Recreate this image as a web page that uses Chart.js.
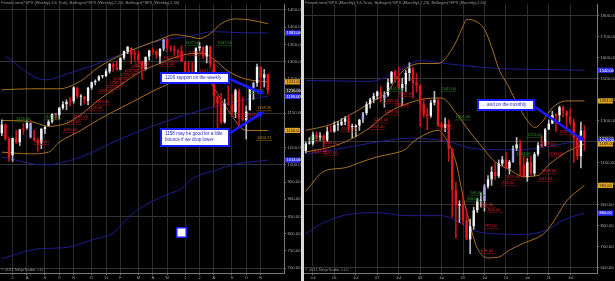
<!DOCTYPE html>
<html>
<head>
<meta charset="utf-8">
<script src="https://cdn.jsdelivr.net/npm/chart.js@4.4.0/dist/chart.umd.min.js"></script>
<style>
  body { margin: 0; background: #000; width: 615px; height: 281px; overflow: hidden; position: relative; }
  #wk { position: absolute; left: 0; top: 0; }
  #mo { position: absolute; left: 304px; top: 0; }
  #split { position: absolute; left: 301px; top: 0; width: 3px; height: 281px; background: #d9d9d9; }
</style>
</head>
<body>
<canvas id="wk" width="301" height="281"></canvas>
<div id="split"></div>
<canvas id="mo" width="311" height="281"></canvas>
<script>
// ---- weekly SPX, Jun 14 2010 .. Nov 14 2011 ----
const wOpen  = [1092,1117,1077,1028,1078,1066,1103,1107,1122,1080,1072,1063,1104,1114,1126,1148,1144,1165,1177,1184,1185,1223,1198,1198,1186,1224,1240,1246,1257,1258,1271,1293,1283,1276,1311,1329,1340,1322,1322,1301,1279,1315,1332,1329,1315,1337,1365,1340,1337,1333,1331,1300,1272,1271,1268,1339,1343,1315,1344,1292,1199,1179,1124,1177,1173,1153,1214,1137,1131,1159,1224,1238,1285,1253,1263];
const wHigh  = [1131,1119,1079,1078,1100,1103,1120,1128,1129,1100,1078,1105,1111,1131,1148,1150,1167,1184,1189,1196,1227,1226,1204,1199,1225,1241,1247,1259,1260,1278,1294,1296,1302,1311,1331,1344,1340,1332,1331,1301,1314,1333,1340,1334,1338,1364,1371,1346,1346,1334,1346,1300,1298,1298,1341,1356,1343,1347,1345,1307,1199,1208,1191,1230,1204,1220,1220,1195,1171,1224,1240,1293,1285,1277,1265];
const wLow   = [1085,1071,1011,1010,1063,1056,1088,1104,1077,1069,1040,1047,1091,1113,1122,1131,1132,1161,1160,1171,1179,1194,1173,1176,1174,1219,1232,1244,1252,1256,1266,1271,1275,1276,1306,1323,1294,1303,1295,1249,1275,1304,1321,1309,1295,1331,1329,1329,1318,1311,1300,1268,1262,1262,1265,1331,1309,1296,1282,1168,1101,1120,1121,1174,1140,1137,1114,1127,1075,1159,1190,1228,1216,1226,1206];
const wClose = [1117,1076,1022,1078,1065,1103,1102,1122,1079,1071,1065,1105,1110,1126,1148,1146,1166,1176,1183,1183,1225,1199,1199,1190,1224,1240,1244,1257,1258,1272,1294,1283,1276,1311,1330,1343,1320,1321,1304,1279,1313,1332,1328,1319,1337,1363,1340,1338,1333,1331,1300,1271,1271,1268,1339,1344,1316,1345,1292,1199,1179,1124,1177,1174,1154,1216,1136,1131,1155,1224,1238,1285,1253,1263,1216];
const wBlue  = [8, 15, 45, 70];
const wSlots = 79;
const wTicks = [[3,'J'],[7,'A'],[12,'S'],[16,'O'],[20,'N'],[25,'D'],[29,'11'],[33,'F'],[38,'M'],[42,'A'],[46,'M'],[51,'J'],[55,'J'],[59,'A'],[64,'S'],[68,'O'],[72,'N']];

// bands as [bar, price]
const wUpper20 = [[0,1218],[8,1221],[16,1221],[22,1244],[27,1284],[33,1318],[38,1341],[44,1364],[48,1378],[52,1373],[55,1367],[58,1381],[61,1410],[65,1424],[69,1421],[74,1410]];
const wMid20   = [[0,1129],[8,1126],[13,1112],[18,1121],[22,1146],[27,1189],[33,1232],[38,1267],[44,1295],[49,1315],[54,1324],[56,1324],[59,1307],[63,1272],[68,1249],[74,1241]];
const wLower20 = [[0,1037],[8,1032],[13,1037],[16,1066],[22,1100],[27,1132],[36,1181],[44,1224],[52,1258],[56,1267],[59,1224],[63,1158],[68,1100],[74,1100]];
const wUpper50 = [[1,1315],[12,1247],[19,1267],[27,1295],[36,1333],[44,1361],[52,1373],[59,1387],[66,1384],[74,1383]];
const wMid50   = [[0,1023],[12,1000],[22,1023],[31,1066],[41,1109],[49,1138],[58,1166],[66,1186],[74,1199]];
const wLower50 = [[0,728],[11,757],[17,759],[26,785],[31,802],[35,845],[38,871],[46,914],[50,931],[53,960],[60,986],[64,1000],[74,1014]];

const wRedTags   = [[27,1209],[29,1221],[30,1232],[31,1244],[33,1255],[34,1267],[36,1278],[37,1287],[26,1175],[24,1158],[20,1132],[18,1118],[17,1095],[9,1060],[45,1304],[44,1287],[55,1267],[67,1138],[52,1318]];
const wGreenTags = [[51,1347],[60,1347],[4,1126],[12,1132],[69,1209]];
const wOrangeTags = [[71,1158,'1158.35'],[71,1072,'1054.71']];

// ---- monthly SPX, May 2005 .. Nov 2011 ----
const mOpen  = [1156,1191,1191,1234,1220,1229,1207,1249,1248,1280,1281,1295,1311,1270,1270,1277,1304,1336,1378,1401,1418,1438,1407,1421,1482,1531,1503,1455,1474,1527,1549,1481,1468,1379,1331,1323,1386,1400,1280,1267,1283,1166,969,896,903,826,735,798,873,919,919,987,1021,1057,1036,1096,1115,1074,1104,1169,1188,1089,1031,1102,1049,1141,1183,1181,1258,1286,1327,1326,1364,1345,1321,1292,1219,1131,1253];
const mHigh  = [1199,1219,1246,1245,1243,1233,1270,1276,1295,1297,1310,1319,1326,1284,1280,1307,1340,1389,1407,1431,1441,1462,1438,1499,1535,1541,1556,1503,1539,1576,1553,1524,1472,1404,1359,1397,1440,1405,1293,1314,1304,1167,1007,919,943,877,832,888,930,956,996,1039,1081,1101,1113,1130,1150,1112,1180,1220,1206,1132,1120,1130,1149,1196,1227,1263,1303,1345,1333,1370,1371,1347,1357,1307,1230,1293,1277];
const mLow   = [1146,1188,1183,1201,1205,1168,1201,1246,1245,1253,1277,1280,1245,1219,1224,1253,1290,1327,1360,1385,1403,1390,1364,1416,1476,1484,1454,1371,1439,1490,1407,1435,1271,1317,1257,1315,1374,1272,1200,1248,1107,840,741,815,805,735,667,783,863,888,869,979,992,1020,1029,1086,1071,1045,1101,1157,1040,1029,1011,1040,1039,1132,1174,1181,1257,1286,1249,1295,1318,1258,1282,1101,1114,1075,1158];
const mClose = [1191,1191,1234,1220,1229,1207,1249,1248,1280,1281,1295,1311,1270,1270,1277,1304,1336,1378,1401,1418,1438,1407,1421,1482,1531,1503,1455,1474,1527,1549,1481,1468,1379,1331,1323,1386,1400,1280,1267,1283,1166,969,896,903,826,735,798,873,919,919,987,1021,1057,1036,1096,1115,1074,1104,1169,1187,1089,1031,1102,1049,1141,1183,1181,1258,1286,1327,1326,1364,1345,1321,1292,1219,1131,1253,1216];
const mBlue  = [16, 22, 50, 58, 66];
const mSlots = 82;
const mTicks = [[2,'Jul'],[8,'06'],[14,'Jul'],[20,'07'],[26,'Jul'],[32,'08'],[38,'Jul'],[44,'09'],[50,'Jul'],[56,'10'],[62,'Jul'],[68,'11'],[74,'Jul']];

const mUpper20 = [[0,1254],[7,1282],[12,1324],[18,1385],[23,1441],[26,1516],[29,1558],[32,1572],[37,1572],[39,1595],[42,1674],[44,1749],[45,1782],[47,1777],[50,1735],[52,1651],[54,1548],[57,1455],[59,1385],[62,1301],[64,1268],[66,1291],[69,1361],[73,1394],[78,1394]];
const mMid20   = [[0,1151],[7,1175],[12,1207],[18,1268],[23,1338],[29,1385],[33,1403],[38,1408],[42,1338],[46,1245],[50,1161],[53,1104],[57,1067],[61,1034],[65,1039],[68,1090],[73,1151],[78,1189]];
const mLower20 = [[0,964],[5,1058],[11,1076],[15,1100],[20,1128],[24,1142],[28,1165],[30,1198],[33,1231],[37,1254],[39,1221],[42,1104],[44,941],[46,801],[48,693],[51,647],[54,651],[57,684],[61,717],[67,768],[70,838],[73,918],[78,992]];
const mUpper50 = [[0,1492],[18,1487],[26,1539],[32,1586],[39,1572],[54,1548],[65,1544],[78,1540]];
const mMid50   = [[0,1142],[9,1165],[18,1193],[30,1217],[39,1203],[48,1165],[59,1161],[67,1175],[73,1193],[78,1203]];
const mLower50 = [[0,763],[5,815],[13,857],[20,862],[28,848],[38,848],[42,824],[47,777],[52,763],[61,759],[67,777],[73,834],[78,860]];

const mRedTags   = [[26,1417],[22,1385],[25,1366],[22,1329],[19,1291],[18,1259],[10,1249],[5,1184],[2,1147],[5,1137],[37,1263],[71,1235],[56,1020],[55,992],[49,890],[51,866],[50,787],[49,670],[66,1048],[65,1011],[68,1133],[66,1179]];
const mGreenTags = [[23,1441],[38,1441],[42,1305],[62,1221],[46,946],[45,918],[59,1133],[1,1207]];

Chart.defaults.font.family = "'Liberation Sans', Arial, sans-serif";

const ORANGE = '#a9701f';
const NAVY = '#1e1e8e';

function spread(pairs, n) {
  const out = new Array(n).fill(null);
  pairs.forEach(p => { out[p[0]] = p[1]; });
  return out;
}

function lastOf(pairs) {
  return pairs[pairs.length - 1][1];
}

function arrow(ctx, x1, y1, x2, y2) {
  const a = Math.atan2(y2 - y1, x2 - x1);
  ctx.strokeStyle = '#1a1aff';
  ctx.fillStyle = '#1a1aff';
  ctx.lineWidth = 2.5;
  ctx.beginPath();
  ctx.moveTo(x1, y1);
  ctx.lineTo(x2 - 5 * Math.cos(a), y2 - 5 * Math.sin(a));
  ctx.stroke();
  ctx.beginPath();
  ctx.moveTo(x2, y2);
  ctx.lineTo(x2 - 7 * Math.cos(a - 0.45), y2 - 7 * Math.sin(a - 0.45));
  ctx.lineTo(x2 - 7 * Math.cos(a + 0.45), y2 - 7 * Math.sin(a + 0.45));
  ctx.closePath();
  ctx.fill();
}

function textBox(ctx, x, y, w, h, lines) {
  ctx.fillStyle = '#1a1aff';
  ctx.fillRect(x, y, w, h);
  ctx.fillStyle = '#ffffff';
  ctx.fillRect(x + 2, y + 2, w - 4, h - 4);
  ctx.fillStyle = '#2424c8';
  ctx.font = '4.6px "Liberation Sans", Arial';
  ctx.textAlign = 'left';
  ctx.textBaseline = 'middle';
  lines.forEach((t, i) => ctx.fillText(t, x + 5, y + 6 + i * 6));
}

function drawTags(chart, tags, textColor, lineColor) {
  const ctx = chart.ctx, xs = chart.scales.x, ys = chart.scales.y;
  ctx.font = '4px "Liberation Sans", Arial';
  ctx.textAlign = 'left';
  ctx.textBaseline = 'bottom';
  tags.forEach(t => {
    const x = xs.getPixelForValue(t[0]) - 1;
    const y = ys.getPixelForValue(t[1]);
    ctx.fillStyle = textColor;
    ctx.fillText(t[2] || t[1].toFixed(2), x + 1, y - 0.3);
    ctx.strokeStyle = lineColor;
    ctx.lineWidth = 0.6;
    ctx.beginPath();
    ctx.moveTo(x, y + 0.3);
    ctx.lineTo(x + 16, y + 0.3);
    ctx.stroke();
  });
}

function axisTag(chart, value, bg, fg) {
  const ctx = chart.ctx, area = chart.chartArea;
  const y = chart.scales.y.getPixelForValue(value);
  ctx.fillStyle = bg;
  ctx.fillRect(area.right + 1, y - 2.6, 15, 5.2);
  ctx.fillStyle = fg;
  ctx.font = '4px "Liberation Sans", Arial';
  ctx.textAlign = 'left';
  ctx.textBaseline = 'middle';
  ctx.fillText(value.toFixed(2), area.right + 2.5, y + 0.2);
}

function buildChart(id, d) {
  const n = d.slots;
  const labels = [];
  for (let i = 0; i < n; i++) labels.push(String(i));
  const tickMap = {};
  d.ticks.forEach(t => { tickMap[t[0]] = t[1]; });
  const up = d.open.map((o, i) => d.close[i] >= o);
  const bodyColor = up.map((u, i) => d.blue.includes(i) ? '#a9a9f2' : (u ? '#f2f2f2' : '#e8161c'));
  const wickColor = up.map(u => u ? '#b8b8b8' : '#c81418');

  const lineSet = (pairs, color) => ({
    type: 'line', data: spread(pairs, n), borderColor: color, borderWidth: 1,
    pointRadius: 0, spanGaps: true, cubicInterpolationMode: 'monotone', order: 3
  });

  return new Chart(document.getElementById(id), {
    data: {
      labels: labels,
      datasets: [
        lineSet(d.lines.upper20, ORANGE),
        lineSet(d.lines.mid20, ORANGE),
        lineSet(d.lines.lower20, ORANGE),
        lineSet(d.lines.upper50, NAVY),
        lineSet(d.lines.mid50, NAVY),
        lineSet(d.lines.lower50, NAVY),
        {
          type: 'bar', data: d.low.map((l, i) => [l, d.high[i]]),
          backgroundColor: wickColor, barThickness: 1, grouped: false, order: 2
        },
        {
          type: 'bar', data: d.open.map((o, i) => [o, d.close[i]]),
          backgroundColor: bodyColor, barPercentage: 0.66, categoryPercentage: 1,
          grouped: false, minBarLength: 1, order: 1
        }
      ]
    },
    options: {
      responsive: false,
      animation: false,
      events: [],
      layout: { padding: { top: 0, left: 0, right: 0, bottom: 0 } },
      plugins: { legend: { display: false }, tooltip: { enabled: false } },
      scales: {
        x: {
          type: 'category',
          offset: true,
          grid: {
            offset: false,
            color: c => tickMap[c.index] ? '#2c2c2c' : 'transparent',
            tickColor: c => tickMap[c.index] ? '#777' : 'transparent',
            tickLength: 2
          },
          border: { color: '#777' },
          ticks: {
            autoSkip: false, maxRotation: 0, padding: 0, color: '#a0a0a0',
            font: { size: 4 },
            callback: (v, i) => tickMap[i] || ''
          },
          afterFit: s => { s.height = 8; }
        },
        y: {
          position: 'right',
          min: d.yMin, max: d.yMax,
          grid: {
            color: c => (c.tick && ((c.tick.value - d.gridBase) % d.gridEvery === 0)) ? '#333' : 'transparent',
            tickColor: '#777',
            tickLength: 2
          },
          border: { color: '#777' },
          ticks: {
            stepSize: d.step, includeBounds: false, padding: 1.5, color: '#a8a8a8',
            font: { size: 4.3 },
            callback: v => v.toFixed(2)
          },
          afterFit: s => { s.width = d.axisW; }
        }
      }
    },
    plugins: [{
      id: 'extras',
      afterDraw: chart => d.extras(chart)
    }]
  });
}

function captions(ctx, head, foot) {
  ctx.fillStyle = '#9a9a9a';
  ctx.font = '4px "Liberation Sans", Arial';
  ctx.textAlign = 'left';
  ctx.textBaseline = 'top';
  ctx.fillText(head, 1, 1);
  ctx.textBaseline = 'bottom';
  ctx.fillText(foot, 1, 272);
}

buildChart('wk', {
  slots: wSlots, ticks: wTicks, open: wOpen, high: wHigh, low: wLow, close: wClose, blue: wBlue,
  yMin: 686, yMax: 1467, step: 50, gridBase: 700, gridEvery: 150, axisW: 17,
  lines: { upper20: wUpper20, mid20: wMid20, lower20: wLower20, upper50: wUpper50, mid50: wMid50, lower50: wLower50 },
  extras: chart => {
    const ctx = chart.ctx, xs = chart.scales.x, ys = chart.scales.y;
    ctx.save();
    drawTags(chart, wRedTags, '#e0262a', '#9a1518');
    drawTags(chart, wGreenTags, '#2d9a2d', '#1d6a1d');
    drawTags(chart, wOrangeTags, '#d08a24', '#9a6418');
    axisTag(chart, lastOf(wUpper50), '#2f2fff', '#fff');
    axisTag(chart, lastOf(wMid20), '#e2a21e', '#222');
    axisTag(chart, wClose[wClose.length - 1], '#2a2a2a', '#eee');
    axisTag(chart, lastOf(wMid50), '#2f2fff', '#fff');
    axisTag(chart, lastOf(wLower20), '#e2a21e', '#222');
    axisTag(chart, lastOf(wLower50), '#2f2fff', '#fff');
    captions(ctx, 'PeriodLines(^SPX (Weekly),3,6,True), Bollinger(^SPX (Weekly),2,20), Bollinger(^SPX (Weekly),2,50)', '\u00a9 2011 NinjaTrader, LLC');
    textBox(ctx, 160, 72, 70, 12, ['1200 support on the weekly']);
    textBox(ctx, 160, 128, 70, 19, ['1158 may be good for a little', 'bounce if we drop lower']);
    arrow(ctx, 230, 79, xs.getPixelForValue(73), ys.getPixelForValue(1205));
    arrow(ctx, 230, 133, xs.getPixelForValue(73), ys.getPixelForValue(1155));
    // small empty note box
    ctx.fillStyle = '#1a1aff';
    ctx.fillRect(176, 227, 11, 11);
    ctx.fillStyle = '#fff';
    ctx.fillRect(177.5, 228.5, 8, 8);
    ctx.restore();
  }
});

buildChart('mo', {
  slots: mSlots, ticks: mTicks, open: mOpen, high: mHigh, low: mLow, close: mClose, blue: mBlue,
  yMin: 575, yMax: 1855, step: 100, gridBase: 600, gridEvery: 300, axisW: 18,
  lines: { upper20: mUpper20, mid20: mMid20, lower20: mLower20, upper50: mUpper50, mid50: mMid50, lower50: mLower50 },
  extras: chart => {
    const ctx = chart.ctx, xs = chart.scales.x, ys = chart.scales.y;
    ctx.save();
    drawTags(chart, mRedTags, '#e0262a', '#9a1518');
    drawTags(chart, mGreenTags, '#2d9a2d', '#1d6a1d');
    axisTag(chart, lastOf(mUpper50), '#2f2fff', '#fff');
    axisTag(chart, lastOf(mUpper20), '#e2a21e', '#222');
    axisTag(chart, mClose[mClose.length - 1], '#2a2a2a', '#eee');
    axisTag(chart, lastOf(mMid50), '#2f2fff', '#fff');
    axisTag(chart, lastOf(mMid20), '#e2a21e', '#222');
    axisTag(chart, lastOf(mLower20), '#e2a21e', '#222');
    axisTag(chart, lastOf(mLower50), '#2f2fff', '#fff');
    captions(ctx, 'PeriodLines(^SPX (Monthly),3,6,True), Bollinger(^SPX (Monthly),2,20), Bollinger(^SPX (Monthly),2,50)', '\u00a9 2011 NinjaTrader, LLC');
    textBox(ctx, 173, 99, 58, 12, ['... and on the monthly']);
    arrow(ctx, 231, 107, xs.getPixelForValue(78), ys.getPixelForValue(1203));
    ctx.restore();
  }
});
</script>
</body>
</html>
